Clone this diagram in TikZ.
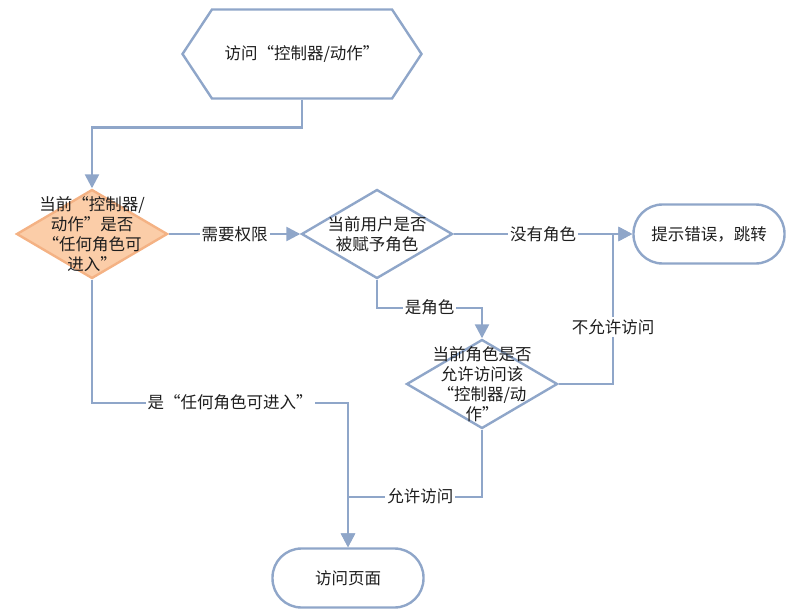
\documentclass[tikz,border=0pt]{standalone}
\usepackage{fontspec}
\setmainfont{Noto Sans CJK SC}
\usepackage{tikz}
\usetikzlibrary{shapes.geometric}
\usetikzlibrary{shapes.symbols}
\usetikzlibrary{arrows.meta}

\definecolor{flowline}{RGB}{143,166,201}
\definecolor{hotfill}{RGB}{251,205,168}
\definecolor{hotdraw}{RGB}{244,178,132}
\definecolor{inktext}{RGB}{30,30,30}

\begin{document}
\begin{tikzpicture}[
    x=1pt, y=-1pt,
    every node/.style={font=\fontsize{16.5pt}{20pt}\selectfont, text=inktext},
    entry/.style={signal, signal to=east and west, signal pointer angle=113, draw=flowline, line width=2.4pt, fill=white, minimum width=239pt, minimum height=89pt, inner sep=0pt},
    decision/.style={diamond, draw=flowline, line width=2.4pt, fill=white, minimum width=151pt, minimum height=89pt, inner sep=0pt},
    hotdecision/.style={decision, draw=hotdraw, fill=hotfill},
    terminal/.style={rectangle, rounded corners=29pt, draw=flowline, line width=2.4pt, fill=white, minimum width=151pt, minimum height=59pt},
    txt/.style={align=center, inner sep=0pt},
    lbl/.style={fill=white, inner sep=2pt},
    arr/.style={-{Triangle[length=14pt,width=14pt]}, draw=flowline, line width=2.4pt},
    line/.style={draw=flowline, line width=2.4pt}
]
\useasboundingbox (0,0) rectangle (800,615);

% Top: entry
\node[entry] (start) at (302,54) {};
\node[txt] (starttxt) at (start) {访问“控制器/动作”};

% Middle row: checks
\node[hotdecision] (chk) at (92,234) {};
\node[txt] (chktxt) at (chk) {当前“控制器/\\动作”是否\\“任何角色可\\进入”};

\node[decision] (role) at (377,234) {};
\node[txt] (roletxt) at (role) {当前用户是否\\被赋予角色};

\node[terminal] (err) at (709,234) {提示错误，跳转};

\node[decision] (perm) at (482,384) {};
\node[txt] (permtxt) at (perm) {当前角色是否\\允许访问该\\“控制器/动\\作”};

% Bottom: page
\node[terminal] (page) at (348,578) {访问页面};

\coordinate (join) at (613,234);

\draw[arr] (start.south) -- ++(0,28) -| (chk.north);
\draw[arr] (chk.east) -- node[lbl] {需要权限} (role.west);
\draw[arr] (role.east) -- node[lbl] {没有角色} (err.west);
\draw[arr] (role.south) -- ++(0,28) -| node[lbl, pos=0.25] {是角色} (perm.north);
\draw[arr] (perm.east) -| node[lbl, pos=0.69] {不允许访问} (join) -- (err.west);
\draw[arr] (chk.south) -- ++(0,123) -| node[lbl, pos=0.27] {是“任何角色可进入”} (page.north);
\draw[arr] (perm.south) -- ++(0,67) -| node[lbl, pos=0.23] {允许访问} (page.north);

\end{tikzpicture}
\end{document}
